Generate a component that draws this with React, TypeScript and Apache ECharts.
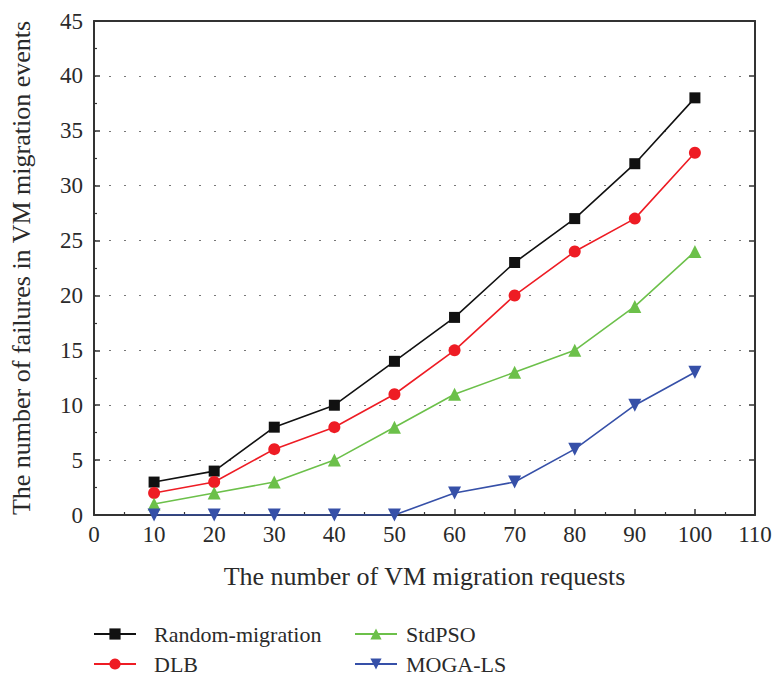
import React, { useEffect, useRef } from "react";
import * as echarts from "echarts";

const xValues = [10, 20, 30, 40, 50, 60, 70, 80, 90, 100];
const randomMigration = [3, 4, 8, 10, 14, 18, 23, 27, 32, 38];
const dlb = [2, 3, 6, 8, 11, 15, 20, 24, 27, 33];
const stdPso = [1, 2, 3, 5, 8, 11, 13, 15, 19, 24];
const mogaLs = [0, 0, 0, 0, 0, 2, 3, 6, 10, 13];

const FONT = "Liberation Serif";
const TXT = "#2a2a2a";

export default function App() {
  const ref = useRef<HTMLDivElement>(null);
  useEffect(() => {
    if (!ref.current) return;
    const chart = echarts.init(ref.current, undefined, { renderer: "svg" });
    const pair = (ys: number[]) => xValues.map((x, i) => [x, ys[i]]);
    const mk = (name: string, ys: number[], color: string, symbol: string, size: number, rotate = 0) => ({
      name,
      type: "line",
      data: pair(ys),
      symbol,
      symbolSize: size,
      symbolRotate: rotate,
      lineStyle: { color, width: 1.6 },
      itemStyle: { color },
      xAxisIndex: 0,
      yAxisIndex: 0,
    });
    const axisCommon = {
      axisLine: { show: true, onZero: false, lineStyle: { color: "#333", width: 2 } },
      axisTick: { show: true, inside: true, length: 6, lineStyle: { color: "#333", width: 1.5 } },
      minorTick: { show: true, splitNumber: 2, length: 3, lineStyle: { color: "#333", width: 1.2 } },
    };
    const legendCommon = {
      orient: "vertical",
      top: 623,
      padding: 0,
      itemWidth: 42,
      itemHeight: 14,
      itemGap: 8,
    };
    chart.setOption({
      animation: false,
      backgroundColor: "#fff",
      grid: { left: 94, right: 22, top: 21, bottom: 165 },
      legend: [
        {
          ...legendCommon,
          data: ["Random-migration", "DLB"],
          left: 93,
          textStyle: { fontFamily: FONT, fontSize: 22, color: TXT, padding: [0, 0, 0, 13] },
        },
        {
          ...legendCommon,
          data: ["StdPSO", "MOGA-LS"],
          left: 354,
          textStyle: { fontFamily: FONT, fontSize: 22, color: TXT, padding: [0, 0, 0, 4] },
        },
      ],
      xAxis: [
        {
          type: "value",
          min: 0,
          max: 110,
          interval: 10,
          position: "bottom",
          name: "The number of VM migration requests",
          nameLocation: "middle",
          nameGap: 48,
          nameTextStyle: { fontFamily: FONT, fontSize: 26, color: TXT },
          axisLabel: { fontFamily: FONT, fontSize: 23, color: TXT, margin: 8 },
          splitLine: { show: false },
          ...axisCommon,
        },
        {
          type: "value",
          min: 0,
          max: 110,
          interval: 10,
          position: "top",
          axisLabel: { show: false },
          splitLine: { show: false },
          ...axisCommon,
          axisTick: { show: false },
          minorTick: { show: false },
        },
      ],
      yAxis: [
        {
          type: "value",
          min: 0,
          max: 45,
          interval: 5,
          position: "left",
          name: "The number of failures in VM migration events",
          nameLocation: "middle",
          nameGap: 60,
          nameTextStyle: { fontFamily: FONT, fontSize: 26, color: TXT },
          axisLabel: { fontFamily: FONT, fontSize: 23, color: TXT, margin: 11 },
          splitLine: { show: true, lineStyle: { type: [2, 13], color: "#777", width: 1.2 } },
          ...axisCommon,
        },
        {
          type: "value",
          min: 0,
          max: 45,
          interval: 5,
          position: "right",
          axisLabel: { show: false },
          splitLine: { show: false },
          ...axisCommon,
          minorTick: { show: false },
        },
      ],
      series: [
        mk("Random-migration", randomMigration, "#111111", "rect", 11),
        mk("DLB", dlb, "#ee1c24", "circle", 12),
        mk("StdPSO", stdPso, "#6cc04a", "triangle", 13),
        mk("MOGA-LS", mogaLs, "#3650a8", "triangle", 13, 180),
      ],
    });
    return () => chart.dispose();
  }, []);
  return (
    <div
      ref={ref}
      style={{ position: "fixed", left: 0, top: 0, width: 777, height: 680 }}
    />
  );
}
